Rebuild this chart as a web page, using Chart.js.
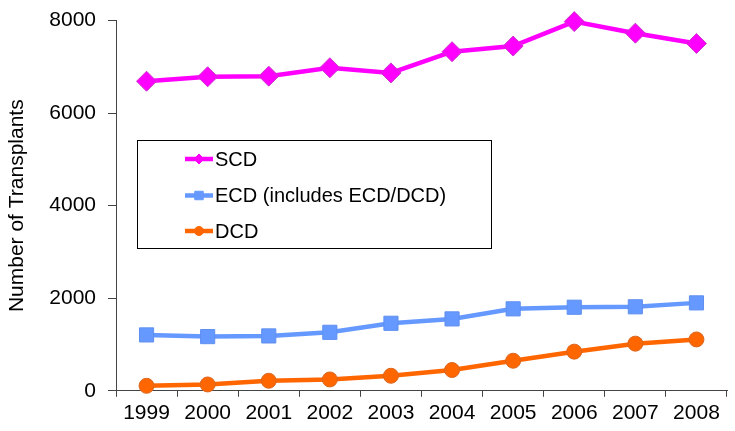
<!DOCTYPE html>
<html>
<head>
<meta charset="utf-8">
<script src="https://cdn.jsdelivr.net/npm/chart.js@4/dist/chart.umd.min.js"></script>
<style>
  html, body { margin: 0; padding: 0; background: #fff; overflow: hidden; }
  #wrap { width: 738px; height: 435px; margin-top: -4px; }
</style>
</head>
<body>
<div id="wrap"><canvas id="chart"></canvas></div>
<script>
const years = ['1999', '2000', '2001', '2002', '2003', '2004', '2005', '2006', '2007', '2008'];
const scd = [6690, 6786, 6800, 6981, 6870, 7328, 7450, 7978, 7728, 7505];
const ecd = [1208, 1171, 1186, 1264, 1459, 1554, 1771, 1806, 1815, 1900];
const dcd = [108, 137, 217, 245, 325, 449, 650, 846, 1019, 1110];
const yTicks = [0, 2000, 4000, 6000, 8000];

const FONT = "'Liberation Sans', Arial, sans-serif";

// legend box drawn inside the plot, like the original (canvas is shifted up 4px)
const boxLegend = {
    id: 'boxLegend',
    afterDraw(chart) {
        const ctx = chart.ctx;
        const rows = [163, 199.5, 235];
        ctx.save();
        ctx.strokeStyle = '#000';
        ctx.lineWidth = 1;
        ctx.strokeRect(137.5, 144.5, 354, 108);
        chart.data.datasets.forEach((ds, i) => {
            const y = rows[i];
            ctx.strokeStyle = ds.borderColor;
            ctx.lineWidth = 4.5;
            ctx.beginPath();
            ctx.moveTo(185, y);
            ctx.lineTo(213, y);
            ctx.stroke();
            ctx.fillStyle = ds.pointBackgroundColor;
            ctx.strokeStyle = ds.pointBackgroundColor;
            ctx.lineWidth = 1;
            Chart.helpers.drawPoint(ctx, { pointStyle: ds.pointStyle, radius: ds.legendRadius, borderWidth: 1 }, 199, y);
            ctx.fillStyle = '#000';
            ctx.font = '20px ' + FONT;
            ctx.textBaseline = 'middle';
            ctx.textAlign = 'left';
            ctx.fillText(ds.label, 215, y + 1);
        });
        ctx.restore();
    }
};

const ctx = document.getElementById('chart').getContext('2d');
const chart = new Chart(ctx, {
    type: 'line',
    data: {
        labels: years,
        datasets: [{
            label: 'SCD',
            data: scd,
            borderColor: '#FF00FF',
            borderWidth: 4.5,
            pointStyle: 'rectRot',
            pointRadius: 10,
            pointBackgroundColor: '#FF00FF',
            pointBorderColor: '#CC33CC',
            pointBorderWidth: 1,
            legendRadius: 5,
            tension: 0,
            clip: false
        }, {
            label: 'ECD (includes ECD/DCD)',
            data: ecd,
            borderColor: '#6699FF',
            borderWidth: 4.5,
            pointStyle: 'rect',
            pointRadius: 10,
            pointBackgroundColor: '#6699FF',
            pointBorderColor: '#5F8FEF',
            pointBorderWidth: 1,
            legendRadius: 6,
            tension: 0,
            clip: false
        }, {
            label: 'DCD',
            data: dcd,
            borderColor: '#FF6600',
            borderWidth: 4.5,
            pointStyle: 'circle',
            pointRadius: 7.5,
            pointBackgroundColor: '#FF6600',
            pointBorderColor: '#D9661F',
            pointBorderWidth: 1,
            legendRadius: 4.5,
            tension: 0,
            clip: false
        }]
    },
    options: {
        responsive: true,
        maintainAspectRatio: false,
        animation: false,
        layout: { padding: { top: 16, right: 0, bottom: 1, left: 0 } },
        plugins: {
            legend: { display: false },
            tooltip: { enabled: false }
        },
        scales: {
            x: {
                offset: true,
                grid: {
                    offset: true,
                    drawOnChartArea: false,
                    tickLength: 6,
                    color: '#444'
                },
                border: { color: '#444', width: 1 },
                ticks: {
                    color: '#000',
                    padding: 4,
                    maxRotation: 0,
                    autoSkip: false,
                    font: { family: FONT, size: 21 }
                }
            },
            y: {
                min: 0,
                max: 8000,
                afterBuildTicks: axis => { axis.ticks = yTicks.map(v => ({ value: v })); },
                afterFit: axis => { axis.width = 116; },
                grid: {
                    drawOnChartArea: false,
                    tickLength: 8,
                    color: '#444'
                },
                border: { color: '#444', width: 1 },
                ticks: {
                    color: '#000',
                    padding: 12,
                    callback: v => String(v),
                    font: { family: FONT, size: 21 }
                },
                title: {
                    display: true,
                    text: 'Number of Transplants',
                    color: '#000',
                    padding: { top: 5, bottom: 0 },
                    font: { family: FONT, size: 21 }
                }
            }
        }
    },
    plugins: [boxLegend]
});
</script>
</body>
</html>
